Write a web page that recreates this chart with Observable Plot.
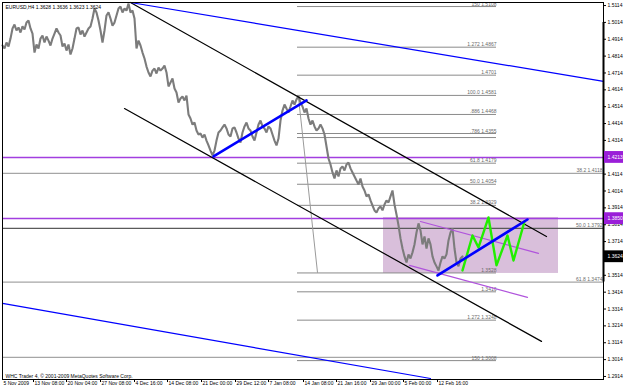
<!DOCTYPE html>
<html><head><meta charset="utf-8">
<script src="https://cdn.jsdelivr.net/npm/d3@7"></script>
<script src="https://cdn.jsdelivr.net/npm/@observablehq/plot@0.6"></script>
<style>
html,body{margin:0;padding:0;background:#fff;}
#chart{width:625px;height:388px;overflow:hidden;}
svg{display:block;}
</style></head><body><div id="chart"></div>
<script>
// EURUSD H4 closes, one value every 2 bars starting at bar 0
const closes = [
1.4877,1.4859,1.4895,1.4871,1.4918,1.4978,1.5001,1.4966,1.4984,1.4954,
1.4990,1.4972,1.5013,1.5025,1.4978,1.4948,1.4835,1.4883,1.4859,1.4918,
1.4936,1.4895,1.4930,1.4906,1.4877,1.4918,1.4948,1.4978,1.4954,1.4936,
1.4871,1.4889,1.4847,1.4883,1.4824,1.4859,1.4918,1.4978,1.4984,1.4942,
1.4966,1.4930,1.4954,1.4978,1.4990,1.5037,1.5096,1.5073,1.5025,1.4966,
1.4895,1.4966,1.5055,1.5073,1.5037,1.4995,1.5013,1.5055,1.5096,1.5108,
1.5073,1.5096,1.5084,1.5126,1.5073,1.5084,1.5037,1.4859,1.4906,1.4877,
1.4835,1.4800,1.4752,1.4717,1.4693,1.4728,1.4740,1.4711,1.4746,1.4728,
1.4740,1.4758,1.4717,1.4634,1.4658,1.4681,1.4622,1.4598,1.4539,1.4563,
1.4575,1.4551,1.4580,1.4468,1.4444,1.4408,1.4420,1.4373,1.4349,1.4355,
1.4331,1.4349,1.4313,1.4284,1.4254,1.4225,1.4254,1.4313,1.4361,1.4373,
1.4391,1.4408,1.4385,1.4349,1.4337,1.4385,1.4391,1.4361,1.4325,1.4302,
1.4361,1.4397,1.4420,1.4385,1.4373,1.4337,1.4313,1.4361,1.4408,1.4432,
1.4397,1.4385,1.4361,1.4397,1.4385,1.4349,1.4313,1.4284,1.4325,1.4432,
1.4491,1.4527,1.4503,1.4480,1.4515,1.4551,1.4527,1.4557,1.4575,1.4539,
1.4515,1.4480,1.4503,1.4444,1.4408,1.4432,1.4397,1.4373,1.4385,1.4408,
1.4385,1.4349,1.4278,1.4207,1.4171,1.4124,1.4088,1.4136,1.4100,1.4148,
1.4160,1.4136,1.4171,1.4183,1.4148,1.4124,1.4100,1.4076,1.4053,1.4088,
1.4041,1.4017,1.3982,1.3994,1.3958,1.3928,1.3899,1.3887,1.3911,1.3922,
1.3899,1.3934,1.3958,1.3946,1.3982,1.4017,1.3934,1.3875,1.3810,1.3733,
1.3673,1.3626,1.3590,1.3638,1.3614,1.3650,1.3697,1.3768,1.3822,1.3780,
1.3697,1.3744,1.3673,1.3733,1.3697,1.3626,1.3590,1.3567,1.3543,1.3590,
1.3626,1.3614,1.3638,1.3721,1.3768,1.3792,1.3673,1.3590,1.3567,1.3614,
1.3626
];
const barStep = 2;

const timeBars = [0, 31, 64, 98, 132, 165, 199, 233, 266, 301, 334, 368, 401, 435];
const timeLabels = ["5 Nov 2009","13 Nov 08:00","20 Nov 04:00","27 Nov 08:00","4 Dec 16:00","14 Dec 08:00","21 Dec 00:00","29 Dec 12:00","7 Jan 08:00","14 Jan 08:00","21 Jan 16:00","29 Jan 00:00","5 Feb 00:00","12 Feb 16:00"];

const priceTicks = [1.5114,1.5014,1.4914,1.4814,1.4714,1.4614,1.4514,1.4414,1.4314,1.4114,1.4014,1.3914,1.3814,1.3714,1.3514,1.3414,1.3314,1.3214,1.3114,1.3014,1.2914];

// trend lines: [bar, price] endpoints
const channelUpperBars = [128, 544], channelUpperPrices = [1.5132, 1.3744];
const channelLowerBars = [122, 539], channelLowerPrices = [1.4503, 1.3122];
const blueUpperBars = [128, 601], blueUpperPrices = [1.5132, 1.4664];
const blueLowerBars = [0, 428], blueLowerPrices = [1.3347, 1.2902];
const blueThick1Bars = [211, 304], blueThick1Prices = [1.4219, 1.4551];
const blueThick2Bars = [435, 525], blueThick2Prices = [1.3513, 1.3845];
const greenBars = [460, 470, 476, 486, 494, 505, 511, 522];
const greenPrices = [1.3543, 1.3750, 1.3679, 1.3857, 1.3573, 1.3750, 1.3602, 1.3833];
const purpleUpperBars = [418, 536], purpleUpperPrices = [1.3833, 1.3644];
const purpleLowerBars = [407, 525], purpleLowerPrices = [1.3573, 1.3383];
const fibDiagBars = [296, 315], fibDiagPrices = [1.4569, 1.3531];
const boxBars = [381, 556], boxPrices = [1.3525, 1.3857];

// horizontal levels
const purpleLevels = [1.4213, 1.3851];
const longFibLevels = [1.4118, 1.3792, 1.3474, 1.3027];
const longFibLabels = ["38.2 1.4118", "50.0 1.3792", "61.8 1.3474", ""];
const longFibColors = ["#a6a6a6", "#5a5a5a", "#a6a6a6", "#a6a6a6"];
const fibLevels = [1.5108,1.4867,1.4701,1.4581,1.4468,1.4355,1.4331,1.4179,1.4054,1.3929,1.3528,1.3416,1.3248,1.3008];
const fibLabels = ["150 1.5108","1.272 1.4867","1.4701","100.0 1.4581",".886 1.4468",".786 1.4355","","61.8 1.4179","50.0 1.4054","38.2 1.3929","1.3528","1.3416","1.272 1.3248","150 1.3008"];
const fibRangeBars = [295, 494];

const markerPrices = [1.4213, 1.3850, 1.3624];
const markerTexts = ["1.4213", "1.3850", "1.3624"];
const markerColors = ["#9a1ed8", "#9a1ed8", "#000000"];

const title = "EURUSD,H4 1.3628 1.3636 1.3623 1.3624";
const copyright = "WHC Trader 4, © 2001-2009 MetaQuotes Software Corp.";

const xMax = 601;
const yMin = 1.2896, yMax = 1.5132;
const priceData = closes.map((c, i) => ({bar: i * barStep, close: c}));
const seg = (bars, prices) => bars.map((b, i) => ({bar: b, price: prices[i]}));
const markers = markerPrices.map((p, i) => ({price: p, text: markerTexts[i], color: markerColors[i]}));
const halfBox = 0.0035;
const tickLenBars = 3, tickLenPrice = 0.0018;

const chart = Plot.plot({
  width: 625, height: 388,
  marginTop: 2, marginRight: 22, marginBottom: 9, marginLeft: 2,
  style: {fontFamily: "'Liberation Sans', Arial, sans-serif", fontSize: "5px", background: "#fff", overflow: "visible"},
  x: {type: "linear", domain: [0, xMax], axis: null},
  y: {type: "linear", domain: [yMin, yMax], axis: null},
  marks: [
    Plot.rect([0], {x1: () => boxBars[0], x2: () => boxBars[1], y1: () => boxPrices[0], y2: () => boxPrices[1], fill: "#d9bfdb"}),
    Plot.ruleY(longFibLevels, {y: d => d, stroke: (d, i) => longFibColors[i], strokeWidth: 1.3}),
    Plot.ruleY(purpleLevels, {y: d => d, stroke: "#a23ee0", strokeWidth: 1.6}),
    Plot.ruleY(fibLevels, {y: d => d, x1: () => fibRangeBars[0], x2: () => fibRangeBars[1], stroke: "#8a8a8a", strokeWidth: 1}),
    Plot.text(fibLevels, {x: () => fibRangeBars[1], y: d => d, text: (d, i) => fibLabels[i], textAnchor: "end", lineAnchor: "bottom", dy: -1, fill: "#6a6a6a", fontSize: 5}),
    Plot.text(longFibLevels, {x: () => xMax, y: d => d, text: (d, i) => longFibLabels[i], textAnchor: "end", lineAnchor: "bottom", dy: -1, dx: -1, fill: "#6a6a6a", fontSize: 5}),
    Plot.line(seg(fibDiagBars, fibDiagPrices), {x: "bar", y: "price", stroke: "#9a9a9a", strokeWidth: 1}),
    Plot.line(priceData, {x: "bar", y: "close", stroke: "#7c7c7c", strokeWidth: 2.1, strokeLinejoin: "miter"}),
    Plot.line(seg(channelUpperBars, channelUpperPrices), {x: "bar", y: "price", stroke: "#000", strokeWidth: 1.2}),
    Plot.line(seg(channelLowerBars, channelLowerPrices), {x: "bar", y: "price", stroke: "#000", strokeWidth: 1.2}),
    Plot.line(seg(blueUpperBars, blueUpperPrices), {x: "bar", y: "price", stroke: "#0000ff", strokeWidth: 1.2}),
    Plot.line(seg(blueLowerBars, blueLowerPrices), {x: "bar", y: "price", stroke: "#0000ff", strokeWidth: 1.2}),
    Plot.line(seg(purpleUpperBars, purpleUpperPrices), {x: "bar", y: "price", stroke: "#b054dc", strokeWidth: 1.2}),
    Plot.line(seg(purpleLowerBars, purpleLowerPrices), {x: "bar", y: "price", stroke: "#b054dc", strokeWidth: 1.2}),
    Plot.line(seg(greenBars, greenPrices), {x: "bar", y: "price", stroke: "#22ee00", strokeWidth: 2.4}),
    Plot.line(seg(blueThick1Bars, blueThick1Prices), {x: "bar", y: "price", stroke: "#0000ff", strokeWidth: 2.6}),
    Plot.line(seg(blueThick2Bars, blueThick2Prices), {x: "bar", y: "price", stroke: "#0000ff", strokeWidth: 2.6}),
    Plot.frame({stroke: "#000", strokeWidth: 1}),
    Plot.ruleX([xMax], {x: d => d, y1: () => 1.5014, y2: () => 1.3474, stroke: "#000", strokeWidth: 2}),
    // right price axis
    Plot.ruleY(priceTicks, {y: d => d, x1: () => xMax, x2: () => xMax + tickLenBars, stroke: "#000", strokeWidth: 1}),
    Plot.text(priceTicks, {x: () => xMax, y: d => d, text: d => d.toFixed(4), textAnchor: "start", dx: 4, fill: "#000", fontSize: 5}),
    Plot.rect(markers, {x1: () => xMax + 1, x2: () => xMax + 20, y1: d => d.price - halfBox, y2: d => d.price + halfBox, fill: d => d.color}),
    Plot.text(markers, {x: () => xMax, y: "price", text: "text", textAnchor: "start", dx: 4, fill: "#fff", fontSize: 5}),
    // bottom time axis
    Plot.ruleX(timeBars.slice(1), {x: d => d, y1: () => yMin, y2: () => yMin - tickLenPrice, stroke: "#000"}),
    Plot.text(timeBars, {x: d => d, y: () => yMin, text: (d, i) => timeLabels[i], textAnchor: "start", lineAnchor: "top", dx: 1, dy: 2, fill: "#000", fontSize: 5}),
    // captions
    Plot.text([title], {frameAnchor: "top-left", dx: 3, dy: 3, lineAnchor: "top", fill: "#000", fontSize: 5}),
    Plot.text([copyright], {frameAnchor: "bottom-left", dx: 3, dy: -2, lineAnchor: "bottom", fill: "#000", fontSize: 5})
  ]
});
document.getElementById("chart").appendChild(chart);
</script></body></html>
